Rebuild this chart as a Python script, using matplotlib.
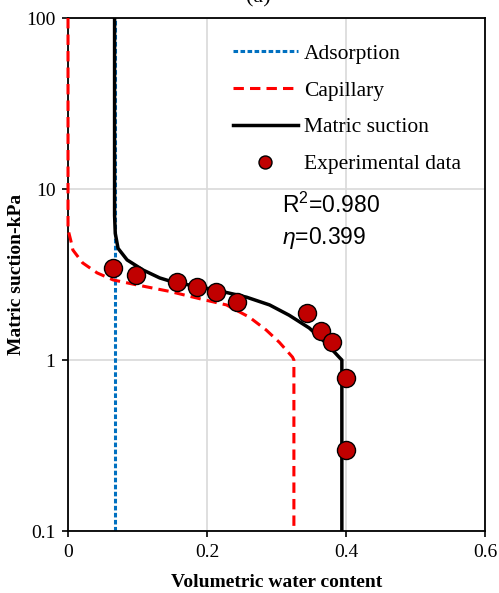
import matplotlib
matplotlib.use('Agg')
from matplotlib import pyplot as plt
from matplotlib.ticker import FixedLocator, NullLocator

## data
theta_exp = [0.065, 0.098, 0.157, 0.186, 0.213, 0.243, 0.344, 0.364, 0.380, 0.400, 0.400]
psi_exp = [3.45, 3.14, 2.86, 2.67, 2.50, 2.18, 1.88, 1.48, 1.27, 0.785, 0.298]

# adsorption part (flat at theta_a max)
theta_ads = [0.067, 0.067]
psi_ads = [0.1, 100]

# capillary part
theta_cap = [0.0, 0.0, 0.004, 0.007, 0.021, 0.042, 0.065, 0.099, 0.146, 0.194,
             0.228, 0.261, 0.285, 0.304, 0.323, 0.325, 0.325]
psi_cap = [100, 5.8, 5.0, 4.4, 3.7, 3.23, 2.94, 2.75, 2.52, 2.26,
           2.10, 1.78, 1.50, 1.27, 1.04, 1.0, 0.1]

# total matric suction curve
theta_ms = [0.067, 0.067, 0.067, 0.068, 0.072, 0.085, 0.108, 0.132, 0.151, 0.180,
            0.210, 0.240, 0.257, 0.290, 0.318, 0.347, 0.371, 0.390, 0.394, 0.394]
psi_ms = [100, 20, 7.0, 5.5, 4.5, 3.85, 3.36, 3.02, 2.86, 2.72,
          2.58, 2.42, 2.33, 2.10, 1.83, 1.54, 1.26, 1.04, 1.0, 0.1]

x_ticks = [0, 0.2, 0.4, 0.6]
x_labels = ['0', '0.2', '0.4', '0.6']
y_ticks = [0.1, 1, 10, 100]
y_labels = ['0.1', '1', '10', '100']

plt.rcParams['mathtext.fontset'] = 'custom'
plt.rcParams['mathtext.rm'] = 'Liberation Sans'
plt.rcParams['mathtext.it'] = 'Liberation Sans:italic'
serif = 'Liberation Serif'

fig = plt.figure(figsize=(4.99, 5.93), dpi=100)
ax = fig.add_axes([0.1363, 0.1045, 0.8357, 0.8651])

ax.plot(theta_ads, psi_ads, color='#0070C0', lw=2.2, ls=(0, (1.5, 0.8)),
        label='Adsorption', zorder=2)
ax.plot(theta_cap, psi_cap, color='#FF0000', lw=2.2, ls=(0, (3.4, 2.0)),
        label='Capillary', zorder=3, clip_on=False)
ax.plot(theta_ms, psi_ms, color='black', lw=2.5, label='Matric suction', zorder=4)
ax.plot(theta_exp, psi_exp, 'o', ms=13, mfc='#C00000', mec='black', mew=1,
        label='Experimental data', zorder=5, clip_on=False)

ax.set_yscale('log')
ax.set_xlim(0, 0.6)
ax.set_ylim(0.1, 100)
ax.xaxis.set_major_locator(FixedLocator(x_ticks))
ax.set_xticklabels(x_labels)
ax.yaxis.set_major_locator(FixedLocator(y_ticks))
ax.yaxis.set_minor_locator(NullLocator())
ax.set_yticklabels(y_labels)
ax.tick_params(direction='out', length=4, width=1.2, labelsize=14, pad=5)
for lab in ax.get_xticklabels() + ax.get_yticklabels():
    lab.set_fontfamily(serif)

ax.grid(True, color='#d9d9d9', lw=1.2, zorder=0)
ax.set_axisbelow(True)
for sp in ax.spines.values():
    sp.set_color('black')
    sp.set_linewidth(1.3)

ax.set_xlabel('Volumetric water content', fontsize=14, fontweight='bold',
              family=serif, labelpad=10)
ax.set_ylabel('Matric suction-kPa', fontsize=14, fontweight='bold',
              family=serif, labelpad=1)

leg = ax.legend(loc='upper left', bbox_to_anchor=(0.396, 0.950), frameon=False,
                prop={'family': serif, 'size': 15.5}, handlelength=3.0,
                handletextpad=0.3, labelspacing=0.78, borderpad=0,
                borderaxespad=0, markerscale=0.72)

ax.text(0.514, 0.635, r'R$^2$=0.980', transform=ax.transAxes, fontsize=16.5,
        family='Liberation Sans', va='center', ha='left')
ax.text(0.514, 0.572, r'$\eta$=0.399', transform=ax.transAxes, fontsize=16.5,
        family='Liberation Sans', va='center', ha='left')

# title is cut off at the top of the original image
fig.text(0.518, 1.0 - 2.0 / 593, '(a)', fontsize=16, family=serif,
         ha='center', va='baseline')

fig.savefig('out.png', dpi=100)
